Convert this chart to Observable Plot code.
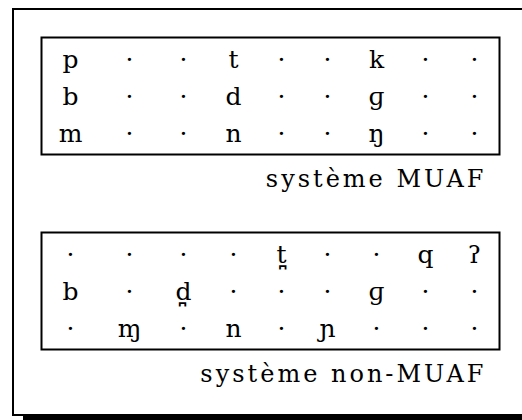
<!DOCTYPE html>
<html><head><meta charset="utf-8">
<script src="https://cdn.jsdelivr.net/npm/d3@7"></script>
<script src="https://cdn.jsdelivr.net/npm/@observablehq/plot@0.6"></script>
<style>
html,body{margin:0;padding:0;background:#fff;overflow:hidden;width:522px;height:420px;}
#wrap{position:relative;width:522px;height:420px;overflow:hidden;background:#fff;}
#chart{position:absolute;left:0;top:0;}
#outer{position:absolute;left:12px;top:8px;width:540px;height:408px;box-sizing:border-box;border:2px solid #000;box-shadow:11px 8px 0 #000;z-index:2;pointer-events:none;}
</style></head><body>
<div id="wrap"><div id="chart"></div><div id="outer"></div></div>
<script>
const tables = ["MUAF", "non-MUAF"];
const captions = ["système MUAF", "système non-MUAF"];
const places = [0, 1, 2, 3, 4, 5, 6, 7, 8];
const rowIndex = [0, 1, 2];
const rowsMUAF = [
  ["p", "·", "·", "t", "·", "·", "k", "·", "·"],
  ["b", "·", "·", "d", "·", "·", "ɡ", "·", "·"],
  ["m", "·", "·", "n", "·", "·", "ŋ", "·", "·"]
];
const rowsNonMUAF = [
  ["·", "·", "·", "·", "t\u032A", "·", "·", "q", "ʔ"],
  ["b", "·", "d\u032A", "·", "·", "·", "ɡ", "·", "·"],
  ["·", "ɱ", "·", "n", "·", "ɲ", "·", "·", "·"]
];

const cells = [];
[rowsMUAF, rowsNonMUAF].forEach((rows, t) => {
  rows.forEach((row, r) => row.forEach((sym, c) => cells.push({table: tables[t], row: rowIndex[r], col: places[c], sym})));
});
const captionData = tables.map((t, i) => ({table: t, label: captions[i]}));

const font = "'DejaVu Serif', serif";
const chart = Plot.plot({
  width: 522,
  height: 420,
  marginTop: 37,
  marginBottom: 71,
  marginLeft: 41,
  marginRight: 23,
  facet: {marginTop: 0, marginBottom: 0, marginLeft: 0, marginRight: 0},
  style: {background: "transparent"},
  x: {type: "linear", domain: places, range: [70, 129, 183, 233, 281, 327, 376, 425, 474], axis: null},
  y: {type: "point", domain: rowIndex, padding: 0.54, axis: null},
  fy: {domain: tables, paddingInner: 0.4, paddingOuter: 0, axis: null},
  marks: [
    Plot.frame({stroke: "#000", strokeWidth: 2}),
    Plot.text(cells, {x: "col", y: "row", fy: "table", text: "sym", fontFamily: font, fontSize: 25, lineAnchor: "middle", fill: "#000"}),
    Plot.text(captionData, {fy: "table", text: "label", frameAnchor: "bottom-right", textAnchor: "end", lineAnchor: "top", dx: -13, dy: 15, fontFamily: font, fontSize: 24, fill: "#000"})
  ]
});
d3.select(chart).selectAll("text").filter(function() { return captions.includes(this.textContent); }).style("letter-spacing", "3px");
document.getElementById("chart").appendChild(chart);
</script>
</body></html>
